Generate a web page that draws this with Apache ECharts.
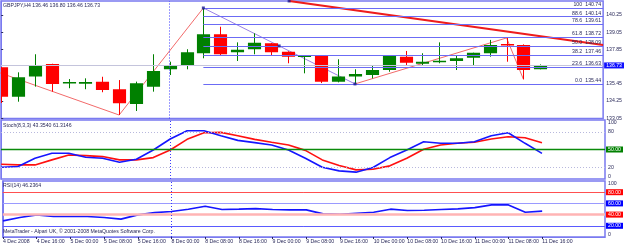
<!DOCTYPE html>
<html><head><meta charset="utf-8">
<script src="https://cdn.jsdelivr.net/npm/echarts@6/dist/echarts.min.js"></script>
<style>html,body{margin:0;padding:0;background:#fff}#c{width:625px;height:247px}</style>
</head><body><div id="c"></div>
<script>
// ---- data ----
const axisLabelBars = [0,2,4,6,8,10,12,14,16,18,20,22,24,26,28,30,32];
const axisLabelTexts = ['4 Dec 2008','4 Dec 16:00','5 Dec 00:00','5 Dec 08:00','5 Dec 16:00','8 Dec 00:00','8 Dec 08:00','8 Dec 16:00','9 Dec 00:00','9 Dec 08:00','9 Dec 16:00','10 Dec 00:00','10 Dec 08:00','10 Dec 16:00','11 Dec 00:00','11 Dec 08:00','11 Dec 16:00'];
const opens  = [136.60,134.55,135.95,136.83,135.47,135.45,135.60,135.06,134.04,135.25,136.46,136.71,137.58,138.90,137.65,137.86,138.27,137.69,137.32,137.41,135.60,135.95,136.06,136.41,137.34,136.85,136.95,137.04,137.27,137.58,138.23,138.16,136.46];
const highs  = [136.62,136.25,137.51,136.85,135.78,135.83,135.94,135.71,135.60,137.51,136.99,137.86,140.74,139.43,138.34,138.97,138.29,137.72,137.41,137.43,137.16,136.46,136.76,137.41,137.74,137.58,138.34,137.39,137.62,138.51,138.65,138.20,136.80];
const lows   = [134.11,134.20,135.25,134.90,135.14,135.07,134.86,133.27,133.55,134.90,136.06,136.46,137.23,137.46,137.04,137.51,137.41,136.88,136.18,135.50,135.55,135.44,135.83,136.29,136.69,136.76,136.88,136.41,136.69,137.34,136.99,135.76,136.46];
const closes = [134.55,135.90,136.76,135.43,135.57,135.57,135.02,134.09,135.48,136.34,136.71,137.65,138.90,137.51,137.83,138.32,137.65,137.34,137.41,135.60,135.95,136.13,136.41,137.39,136.92,136.99,137.06,137.23,137.62,138.16,138.12,136.41,136.73];
const stochK = [20.0,21.1,35.2,43.6,43.6,36.9,35.2,28.4,33.5,49.2,67.8,81.8,81.8,73.4,65.5,61.6,57.7,49.2,35.2,20.0,13.8,11.6,19.4,36.3,49.2,63.2,60.5,60.5,63.2,73.4,78.4,60.5,43.35];
const stochD = [25.1,23.9,23.9,32.4,40.8,39.7,38.0,32.4,32.4,36.3,49.2,67.2,78.4,79.0,73.4,67.2,62.2,57.7,48.5,32.4,22.8,15.5,16.6,22.3,35.2,50.4,57.7,60.5,62.2,67.8,71.7,70.0,61.31];
const rsi    = [28.8,34.7,39.5,36.5,36.5,36.5,34.7,31.9,39.5,43.6,45.4,49.7,55.0,49.0,49.7,50.7,49.0,48.4,48.4,41.3,40.7,42.5,44.3,49.7,47.2,47.8,49.0,50.2,52.5,57.3,57.3,44.3,46.24];
const fibLevels = ['100','88.6','78.6','61.8','50.0','38.2','23.6','0.0'];
const fibPrices = [140.74,140.14,139.61,138.72,138.09,137.46,136.63,135.44];
const fibStartBar = 12;
const fibDiagonal = [[12,140.74],[21,135.44]];
const handles = [[12,140.74],[21,135.44],[16.5,138.09],[17.09,141.23]];
const zigzagA = [[-1,136.6],[7,133.27],[12,140.74]];
const zigzagB = [[21,135.44],[30,138.65],[31,135.76]];
const trendLine = [[17.09,141.23],[35.73,138.16]];
const priceTicks = [133.05,134.25,135.45,137.85,139.05,140.25];
const currentPrice = 136.73;
const separatorBar = 10;
const titleMain = 'GBPJPY,H4 136.46 136.80 136.46 136.73';
const titleStoch = 'Stoch(8,3,3) 43.3540 61.3146';
const titleRsi = 'RSI(14) 46.2364';
const copyright = 'MetaTrader - Alpari UK, \u00a9 2001-2008 MetaQuotes Software Corp.';

// ---- style ----
const FONT = 'Liberation Sans';
const FS = 5.2;
const TXT = '#2a2a5a';
const FRAME = '#7a7af0';
const GREEN = '#008000', RED = '#ff0000';
const XMIN = -0.012, XMAX = 35.73;

const candleData = opens.map((o,i)=>[i,o,highs[i],lows[i],closes[i]]);
const idx = a => a.map((v,i)=>[i,v]);

function boxLabel(text,bg){
  return {show:true, position:'end', distance:1, formatter:text, color:'#fff',
    backgroundColor:bg, padding:[1,2,0,2], fontSize:FS, fontFamily:FONT};
}
const tStyle = {fontSize:FS, fontFamily:FONT, color:TXT, fontWeight:'normal', lineHeight:6};

const xBase = {type:'value', min:XMIN, max:XMAX, splitLine:{show:false}};
const yLbl = {fontSize:FS, fontFamily:FONT, color:TXT, margin:3};

const option = {
  animation:false,
  backgroundColor:'#fff',
  title:[
    {text:titleMain, left:3, top:2.5, padding:0, textStyle:tStyle},
    {text:titleStoch, left:3, top:122.7, padding:0, textStyle:tStyle},
    {text:titleRsi, left:3, top:182.7, padding:0, textStyle:tStyle},
    {text:copyright, left:3, top:229, padding:0, textStyle:tStyle}
  ],
  grid:[
    {left:1, right:20, top:1, height:117.5, show:true, borderColor:FRAME, borderWidth:1.5, backgroundColor:'transparent'},
    {left:1, right:20, top:120, height:59, show:true, borderColor:FRAME, borderWidth:1.5, backgroundColor:'transparent'},
    {left:1, right:20, top:181, height:56, show:true, borderColor:FRAME, borderWidth:1.5, backgroundColor:'transparent'}
  ],
  xAxis:[
    Object.assign({gridIndex:0, show:false}, xBase),
    Object.assign({gridIndex:1, show:false}, xBase),
    Object.assign({gridIndex:2, axisLine:{show:true, lineStyle:{color:FRAME}},
      axisTick:{show:true, length:2, customValues:axisLabelBars, lineStyle:{color:TXT}},
      axisLabel:{customValues:axisLabelBars, align:'left', margin:2, fontSize:FS, fontFamily:FONT, color:TXT,
        formatter:v=>{const k=axisLabelBars.indexOf(Math.round(v)); return k>=0?axisLabelTexts[k]:'';}}}, xBase)
  ],
  yAxis:[
    {gridIndex:0, type:'value', position:'right', min:133.027, max:141.227, splitLine:{show:false},
      axisLine:{show:true, lineStyle:{color:FRAME}},
      axisTick:{show:true, length:2, customValues:priceTicks, lineStyle:{color:TXT}},
      axisLabel:Object.assign({customValues:priceTicks, formatter:v=>v.toFixed(2)}, yLbl)},
    {gridIndex:1, type:'value', position:'right', min:0, max:100, splitLine:{show:false},
      axisLine:{show:true, lineStyle:{color:FRAME}},
      axisTick:{show:false},
      axisLabel:Object.assign({customValues:[0,20,80,100], verticalAlignMinLabel:'bottom', verticalAlignMaxLabel:'top'}, yLbl)},
    {gridIndex:2, type:'value', position:'right', min:0, max:100, splitLine:{show:false},
      axisLine:{show:true, lineStyle:{color:FRAME}},
      axisTick:{show:false},
      axisLabel:Object.assign({customValues:[0,100], verticalAlignMinLabel:'bottom', verticalAlignMaxLabel:'top'}, yLbl)}
  ],
  series:[
    {type:'line', xAxisIndex:0, yAxisIndex:0, data:[], symbol:'none',
      markLine:{silent:true, symbol:'none', animation:false,
        data:[
          {yAxis:currentPrice, lineStyle:{color:'#c4c4dc', width:1, type:'solid'}, label:boxLabel(currentPrice.toFixed(2),'#1010ff')},
          {xAxis:separatorBar, lineStyle:{color:'#3b3bff', type:[1,2], width:1}, label:{show:false}}
        ]}},
    {type:'line', xAxisIndex:0, yAxisIndex:0, data:[], symbol:'none',
      markLine:{silent:true, symbol:'none', animation:false,
        lineStyle:{color:'#6b6bf5', width:1, type:'solid'},
        data: fibPrices.map((p,k)=>[
          {coord:[fibStartBar,p], label:{show:true, position:'insideEndTop', distance:[2,1],
            formatter:'{a|'+fibLevels[k]+'}{b|'+p.toFixed(2)+'}',
            rich:{a:{fontSize:FS, fontFamily:FONT, color:TXT, width:14, align:'right'},
                  b:{fontSize:FS, fontFamily:FONT, color:TXT, width:19, align:'right'}}}},
          {coord:[XMAX,p]}
        ])}},
    {type:'line', xAxisIndex:0, yAxisIndex:0, data:zigzagA, symbol:'none', lineStyle:{color:'#f26a6a', width:1}, z:3},
    {type:'line', xAxisIndex:0, yAxisIndex:0, data:zigzagB, symbol:'none', lineStyle:{color:'#f26a6a', width:1}, z:3},
    {type:'line', xAxisIndex:0, yAxisIndex:0, data:fibDiagonal, symbol:'none', lineStyle:{color:'#9a80e6', width:1}, z:3},
    {type:'line', xAxisIndex:0, yAxisIndex:0, data:trendLine, symbol:'none', lineStyle:{color:'#ee1c1c', width:2}, z:3},
    {type:'custom', xAxisIndex:0, yAxisIndex:0, data:candleData, z:4,
      encode:{x:0, y:[1,2,3,4]},
      renderItem:(params, api)=>{
        const x=api.value(0), o=api.value(1), h=api.value(2), l=api.value(3), c=api.value(4);
        const pO=api.coord([x,o]), pC=api.coord([x,c]), pH=api.coord([x,h]), pL=api.coord([x,l]);
        const w=api.size([1,0])[0]*0.78;
        const col = c>=o ? GREEN : RED;
        const top=Math.min(pO[1],pC[1]);
        const hgt=Math.max(Math.abs(pO[1]-pC[1]),1.2);
        const cs=params.coordSys;
        const cx=Math.round(pO[0])+0.5;
        return {type:'group',
          clipPath:{type:'rect', shape:{x:cs.x, y:cs.y, width:cs.width, height:cs.height}},
          children:[
            {type:'line', shape:{x1:cx,y1:pH[1],x2:cx,y2:pL[1]}, style:{stroke:col, lineWidth:1}},
            {type:'rect', shape:{x:cx-w/2, y:top, width:w, height:hgt}, style:{fill:col}}
          ]};
      }},
    {type:'scatter', xAxisIndex:0, yAxisIndex:0, data:handles, symbol:'rect', symbolSize:3, itemStyle:{color:'#1a1a90'}, z:5, silent:true},
    {type:'line', xAxisIndex:1, yAxisIndex:1, data:idx(stochK), symbol:'none', lineStyle:{color:'#1515ff', width:1.6}, z:3,
      markLine:{silent:true, symbol:'none', animation:false,
        data:[
          {yAxis:80, lineStyle:{color:'#b8b8dd', type:[1,2], width:1}, label:{show:false}},
          {yAxis:20, lineStyle:{color:'#b8b8dd', type:[1,2], width:1}, label:{show:false}},
          {yAxis:50, lineStyle:{color:'#0a8a0a', type:'solid', width:1.3}, label:boxLabel('50.00','#008000')},
          {xAxis:separatorBar, lineStyle:{color:'#3b3bff', type:[1,2], width:1}, label:{show:false}}
        ]}},
    {type:'line', xAxisIndex:1, yAxisIndex:1, data:idx(stochD), symbol:'none', lineStyle:{color:'#ff1010', width:1.6}, z:2},
    {type:'line', xAxisIndex:2, yAxisIndex:2, data:idx(rsi), symbol:'none', lineStyle:{color:'#1515ff', width:1.6}, z:3,
      markLine:{silent:true, symbol:'none', animation:false,
        data:[
          {yAxis:80, lineStyle:{color:'#ff5050', type:'solid', width:1}, label:boxLabel('80.00','#ff0000')},
          {yAxis:60, lineStyle:{color:'#9a9aff', type:'solid', width:1}, label:boxLabel('60.00','#0000ff')},
          {yAxis:40, lineStyle:{color:'#ffb4b4', type:'solid', width:2.5}, label:boxLabel('40.00','#ff0000')},
          {yAxis:20, lineStyle:{color:'#5a5aff', type:'solid', width:1}, label:boxLabel('20.00','#0000ff')},
          {xAxis:separatorBar, lineStyle:{color:'#3b3bff', type:[1,2], width:1}, label:{show:false}}
        ]}}
  ]
};
const chart = echarts.init(document.getElementById('c'), null, {renderer:'canvas'});
chart.setOption(option);
</script></body></html>
